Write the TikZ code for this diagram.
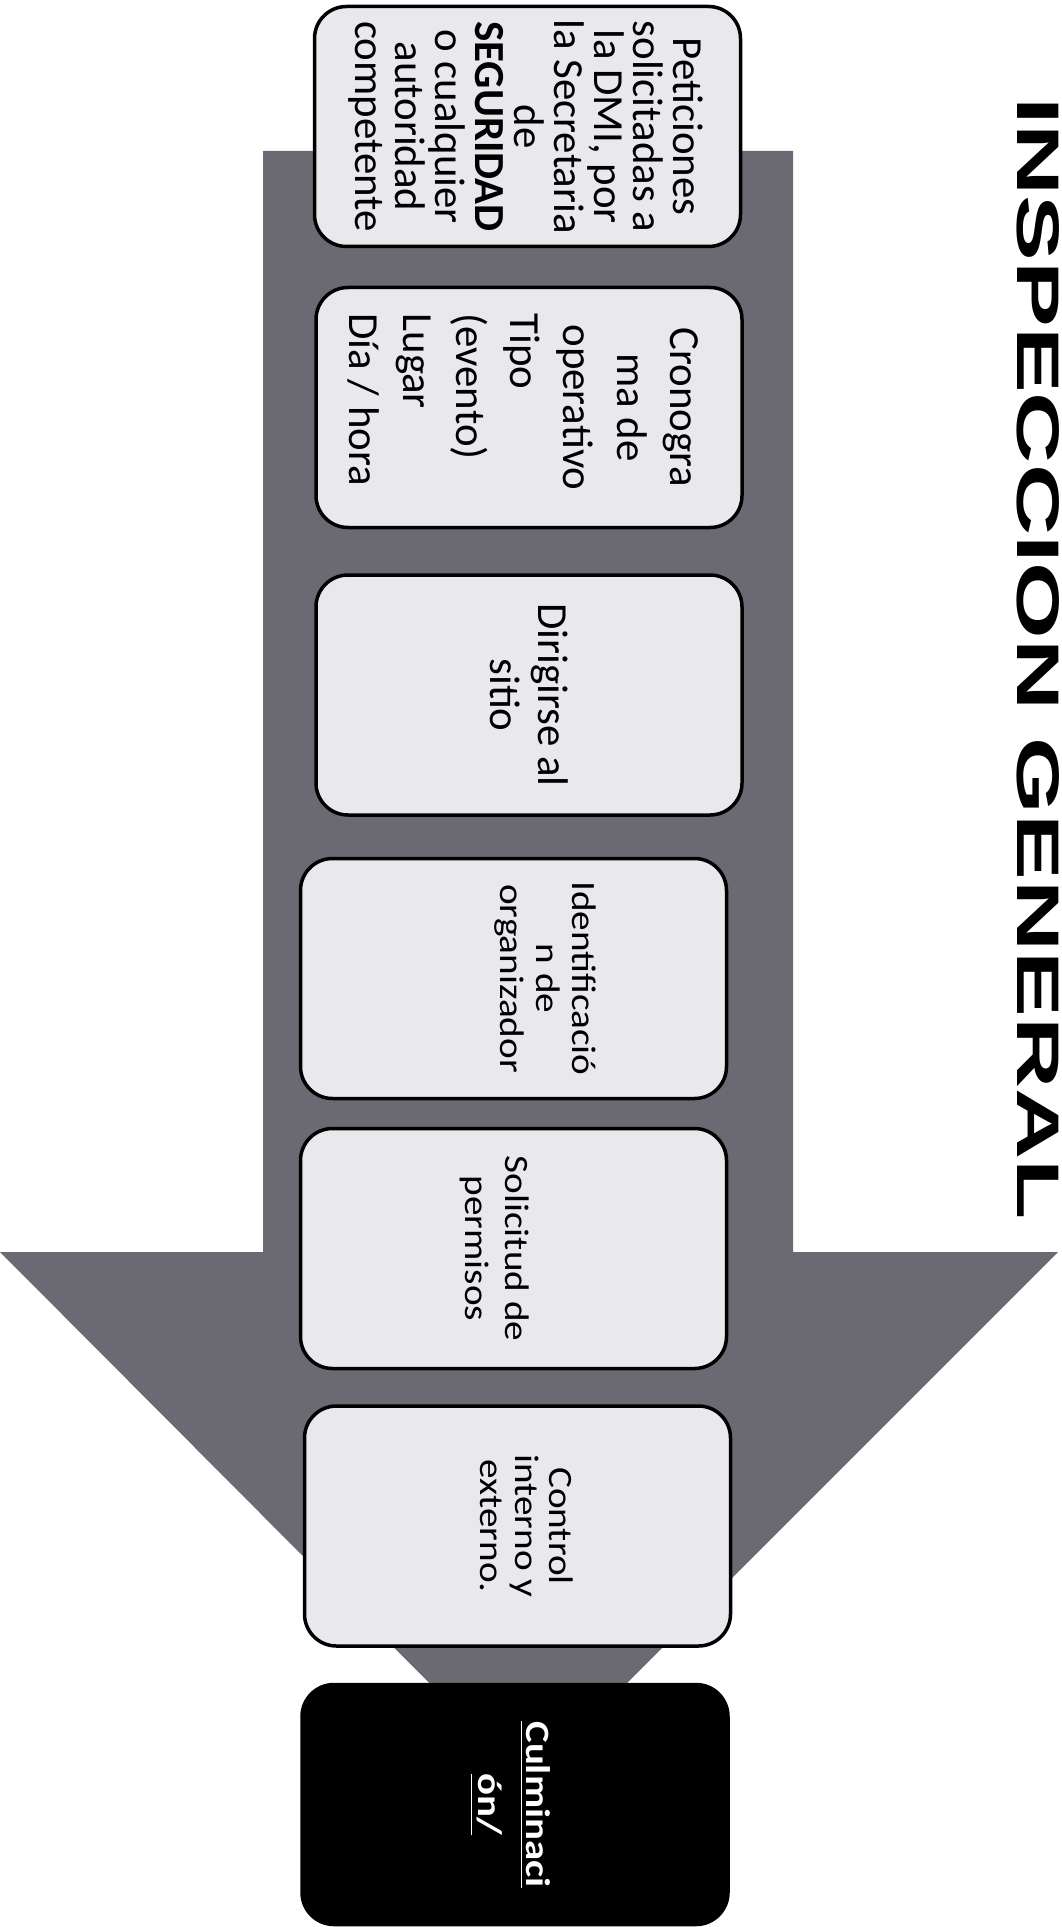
\documentclass[tikz,border=0pt]{standalone}
\usepackage{fontspec}
\setmainfont{Carlito}
\newfontfamily\titlefont{Liberation Sans}

\definecolor{arrowgray}{HTML}{6B6A72}
\definecolor{cardfill}{HTML}{E9E9ED}

\providecommand{\bigfontsize}{\fontsize{12.2}{13.7}\selectfont}
\providecommand{\tightfontsize}{\fontsize{12.2}{11.3}\selectfont}
\providecommand{\loosefontsize}{\fontsize{12.2}{15.2}\selectfont}
\providecommand{\titlefontsize}{\fontsize{17.1}{20}\selectfont}

\tikzset{
  card/.style={draw=black, line width=0.35mm, fill=cardfill, rounded corners=3.2mm,
    minimum width=42.6mm, minimum height=24mm, inner sep=0pt},
  endcard/.style={card, fill=black},
  cardtext/.style={rotate=-90, anchor=north, inner sep=0pt, align=center, font=\bigfontsize},
  narrowtext/.style={cardtext, xscale=1.15}
}

\begin{document}
\begin{tikzpicture}[x=0.1mm, y=-0.1mm]
    \useasboundingbox (0,0) rectangle (1062,1927);
    % big arrow behind the cards
    \fill[arrowgray] (263,151) -- (793,151) -- (793,1252) -- (1058,1252) -- (528,1782)
        -- (0,1252) -- (263,1252) -- cycle;
    % title
    \node[rotate=-90, xscale=1.64, anchor=base west, inner sep=0pt, font={\titlefont\bfseries\titlefontsize}] (title) at (1017,96) {INSPECCION GENERAL};
    % cards
    \node[card] (b1) at (527.5,126.5) {};
    \node[card] (b2) at (529,407.5) {};
    \node[card] (b3) at (529,695) {};
    \node[card] (b4) at (513.5,978.5) {};
    \node[card] (b5) at (513.5,1248.5) {};
    \node[card] (b6) at (517.5,1526) {};
    \node[endcard] (bend) at (515,1804.5) {};
    % card texts
    \node[cardtext, font=\tightfontsize] (t1) at (704,126.5) {Peticiones\\solicitadas a\\la DMI, por\\la Secretaria\\de\\\textbf{SEGURIDAD}\\o cualquier\\autoridad\\competente};
    \node[cardtext, align=none, text width=18.8mm, font=\loosefontsize] (t2) at (699,407.5)
        {\centering Cronogra\\ma de\\operativo\par\raggedright Tipo\\(evento)\\Lugar\\Día / hora\par};
    \node[cardtext] (t3) at (569,695) {Dirigirse al\\sitio};
    \node[narrowtext, font={\fontsize{9.7}{10.3}\selectfont}] (t4) at (597,978.5) {Identificació\\n de\\organizador};
    \node[narrowtext, font={\fontsize{9.7}{11.4}\selectfont}] (t5) at (530,1248.5) {Solicitud de\\permisos};
    \node[narrowtext, font={\fontsize{9.7}{9.8}\selectfont}] (t6) at (574,1526) {Control\\interno y\\externo.};
    \node[cardtext, xscale=1.2, text=white, font={\bfseries\fontsize{9.7}{13.7}\selectfont}] (tend) at (551,1804.5) {\underline{Culminaci}\\\underline{ón/}};
\end{tikzpicture}
\end{document}
